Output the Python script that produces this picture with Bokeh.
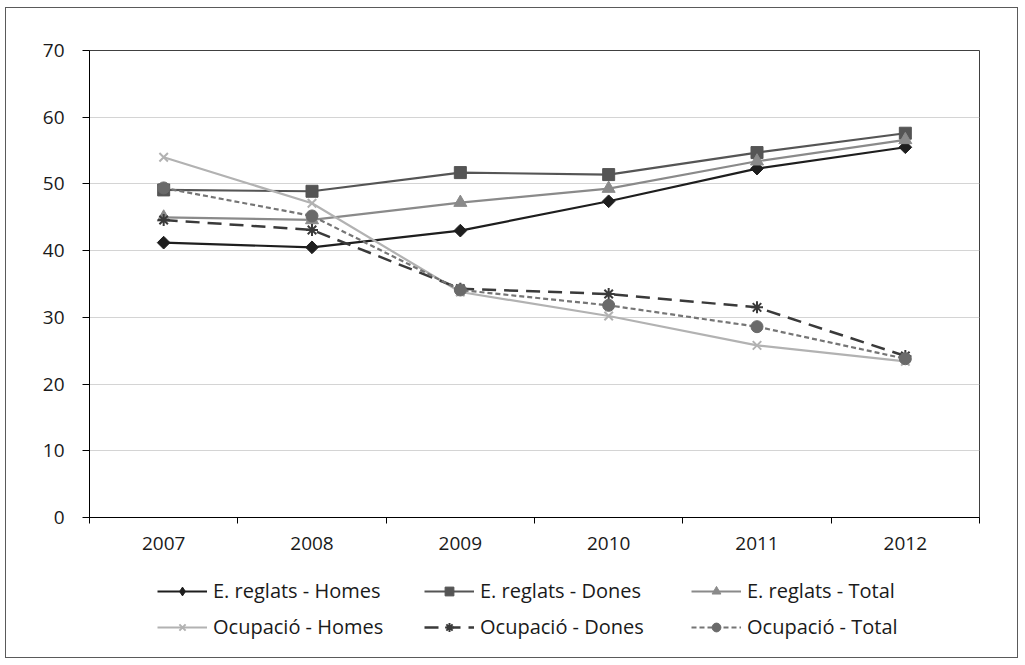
import math
from bokeh.plotting import figure
from bokeh.layouts import column
from bokeh.models import (Range1d, FixedTicker, Legend, LegendItem)
from bokeh.embed import file_html
from bokeh.resources import INLINE

years = ["2007", "2008", "2009", "2010", "2011", "2012"]
ereg_homes = [41.2, 40.5, 43.0, 47.4, 52.3, 55.5]
ereg_dones = [49.1, 48.9, 51.7, 51.4, 54.7, 57.6]
ereg_total = [45.0, 44.6, 47.2, 49.3, 53.4, 56.6]
ocup_homes = [54.0, 47.1, 33.8, 30.2, 25.8, 23.4]
ocup_dones = [44.6, 43.1, 34.3, 33.5, 31.5, 24.2]
ocup_total = [49.4, 45.2, 34.1, 31.8, 28.6, 23.8]
y_ticks = [0, 10, 20, 30, 40, 50, 60, 70]
labels = ["E. reglats - Homes", "E. reglats - Dones", "E. reglats - Total",
          "Ocupació - Homes", "Ocupació - Dones", "Ocupació - Total"]

FONT = "Open Sans"

# category slots: each year sits at the centre of its slot
xs = [i + 0.5 for i in range(len(years))]
bounds = list(range(len(years) + 1))

p = figure(frame_width=890, frame_height=467, output_backend="svg", toolbar_location=None,
           x_range=Range1d(0, len(years)), y_range=Range1d(0, 70),
           min_border_left=83, min_border_top=42, min_border_right=38, min_border_bottom=50)
p.background_fill_color = "white"
p.border_fill_color = "white"
p.outline_line_color = "#404040"
p.outline_line_width = 1
p.xgrid.visible = False

# y axis
yax = p.yaxis[0]
yax.ticker = FixedTicker(ticks=y_ticks, minor_ticks=[])
yax.axis_line_color = "black"
yax.major_tick_out = 7
yax.major_tick_in = 0
yax.major_tick_line_color = "black"
yax.minor_tick_line_color = None
yax.major_label_text_font = FONT
yax.major_label_text_font_size = "19px"
yax.major_label_text_color = "#1a1a1a"
yax.major_label_standoff = 18
p.ygrid.ticker = FixedTicker(ticks=y_ticks)
p.ygrid.grid_line_color = "#d4d4d4"
p.ygrid.grid_line_width = 1

# x axis: labels at slot centres, tick marks at slot boundaries
xax = p.xaxis[0]
xax.ticker = FixedTicker(ticks=xs, minor_ticks=bounds)
xax.major_label_overrides = {c: y for c, y in zip(xs, years)}
xax.axis_line_color = "black"
xax.major_tick_line_color = None
xax.major_tick_out = 0
xax.major_tick_in = 0
xax.minor_tick_line_color = "black"
xax.minor_tick_out = 6
xax.minor_tick_in = 0
xax.major_label_text_font = FONT
xax.major_label_text_font_size = "19px"
xax.major_label_text_color = "#1a1a1a"
xax.major_label_standoff = 13

series = [
    dict(y=ereg_homes, color="#1e1e1e", mcolor="#1e1e1e", marker="square", size=9, angle=math.pi / 4,
         lmarker="diamond", lsize=13, dash="solid", lw=2.2),
    dict(y=ereg_dones, color="#555555", mcolor="#555555", marker="square", size=12, angle=0,
         lmarker="square", lsize=12, dash="solid", lw=2.2),
    dict(y=ereg_total, color="#8a8a8a", mcolor="#8a8a8a", marker="triangle", size=13, angle=0,
         lmarker="triangle", lsize=13, dash="solid", lw=2.2),
    dict(y=ocup_homes, color="#b2b2b2", mcolor="#b2b2b2", marker="x", size=12, angle=0,
         lmarker="x", lsize=12, dash="solid", lw=2.2),
    dict(y=ocup_dones, color="#3a3a3a", mcolor="#3a3a3a", marker="asterisk", size=12, angle=0,
         lmarker="asterisk", lsize=12, dash="14 8", lw=2.5),
    dict(y=ocup_total, color="#757575", mcolor="#6a6a6a", marker="circle", size=12, angle=0,
         lmarker="circle", lsize=12, dash="5 3", lw=2.2),
]


def draw(fig, xv, yv, s, marker, size, angle):
    ln = fig.line(xv, yv, line_color=s["color"], line_width=s["lw"], line_dash=s["dash"])
    if marker in ("x", "asterisk"):
        sc = fig.scatter(xv, yv, marker=marker, size=size,
                         line_color=s["mcolor"], line_width=2)
    else:
        sc = fig.scatter(xv, yv, marker=marker, size=size, angle=angle,
                         fill_color=s["mcolor"], line_color=s["mcolor"], line_width=1)
    return ln, sc


for s in series:
    draw(p, xs, s["y"], s, s["marker"], s["size"], s["angle"])

# legend strip below the chart: same series drawn again, but its ranges keep them out of view
leg = figure(frame_width=1011, frame_height=90, output_backend="svg", toolbar_location=None,
             x_range=Range1d(0, len(years)), y_range=Range1d(1000, 1001),
             x_axis_location=None, y_axis_location=None,
             min_border=0, min_border_left=0, min_border_right=0,
             min_border_top=0, min_border_bottom=0)
leg.outline_line_color = None
leg.grid.visible = False
leg.background_fill_color = "white"
leg.border_fill_color = "white"

items = []
for s, lab in zip(series, labels):
    ln, sc = draw(leg, xs, s["y"], s, s["lmarker"], s["lsize"], 0)
    items.append(LegendItem(label=lab, renderers=[ln, sc]))

legend = Legend(items=items, orientation="horizontal", ncols=3, location=(151, 17),
                glyph_width=50, glyph_height=22, label_height=22, label_width=202,
                label_standoff=6, spacing=9, padding=0, margin=0,
                border_line_color=None, background_fill_alpha=0,
                label_text_font=FONT, label_text_font_size="20px",
                label_text_color="#1a1a1a")
leg.add_layout(legend, "center")

layout = column(p, leg, spacing=0)
layout.styles = {"border": "1px solid #5a5a5a", "margin-left": "5px", "margin-top": "7px"}

open("out.html", "w").write(file_html(layout, INLINE))
